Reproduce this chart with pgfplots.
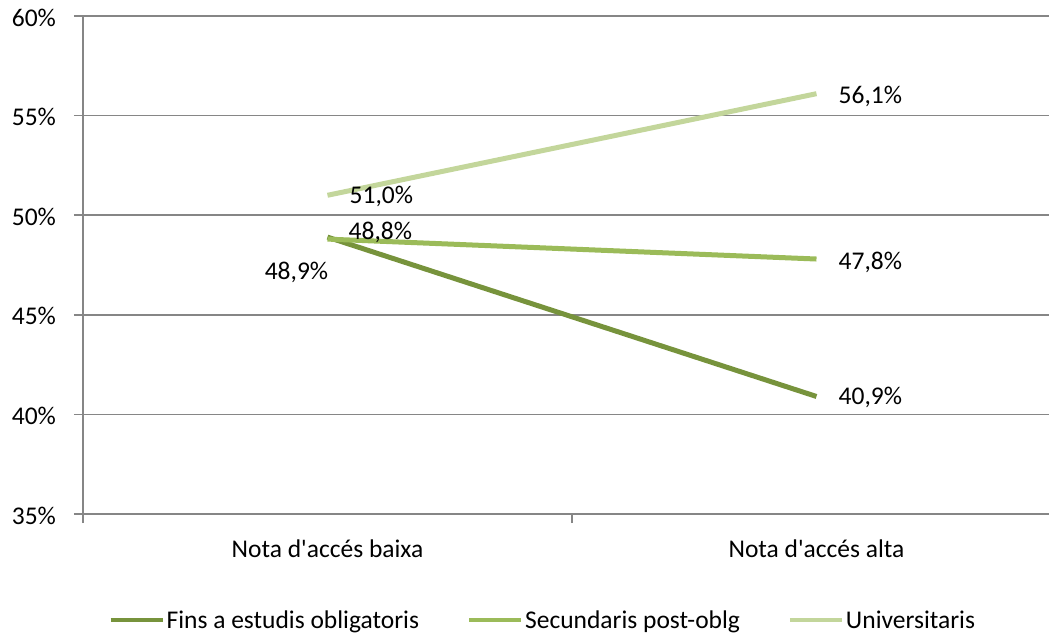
\documentclass[border=0pt]{standalone}
\usepackage{fontspec}
\setmainfont{Carlito}
\usepackage{pgfplots}
\pgfplotsset{compat=1.18}
\definecolor{cA}{RGB}{119,147,60}
\definecolor{cB}{RGB}{155,187,89}
\definecolor{cC}{RGB}{195,214,155}
\definecolor{gridc}{RGB}{134,134,134}
\newcommand{\fs}{\fontsize{25.5}{30}\selectfont}
\begin{document}
\begin{tikzpicture}[x=1pt,y=1pt]
\useasboundingbox (0,0) rectangle (1049,637);
\clip (0,0) rectangle (1049,637);
\begin{axis}[
  at={(83pt,123pt)}, anchor=south west,
  scale only axis, width=966pt, height=498pt,
  xmin=-0.5, xmax=1.4755, ymin=35, ymax=60,
  axis x line*=bottom, axis y line*=left,
  axis line style={gridc, line width=1.5pt},
  every tick/.style={gridc, line width=1.5pt},
  tick align=outside, major tick length=9pt,
  xtick={-0.5,0.5,1.5}, xticklabels={},
  extra x ticks={0,1},
  extra x tick labels={Nota d\textquotesingle accés baixa, Nota d\textquotesingle accés alta},
  extra x tick style={major tick length=0pt, grid=none, xticklabel style={yshift=-22pt}},
  ytick={35,40,45,50,55,60},
  yticklabel={\pgfmathprintnumber{\tick}\%},
  /pgf/number format/assume math mode=true,
  ymajorgrids, grid style={gridc, line width=1.5pt},
  tick label style={font=\fs, black},
  yticklabel style={xshift=-14.5pt, yshift=-1.5pt},
  legend columns=3,
  legend style={draw=none, fill=none, at={(0.476,-0.213)}, anchor=center,
    font=\fs,
    /tikz/every even column/.append style={column sep=46pt}},
  legend image code/.code={\draw[#1, line width=4pt] (0pt,0pt) -- (52pt,0pt);},
  clip=false,
]
\addplot[cA, line width=5pt] coordinates {(0,48.9) (1,40.9)};
\addlegendentry{Fins a estudis obligatoris}
\addplot[cB, line width=5pt] coordinates {(0,48.8) (1,47.8)};
\addlegendentry{Secundaris post-oblg}
\addplot[cC, line width=5pt] coordinates {(0,51.0) (1,56.1)};
\addlegendentry{Universitaris}
\begin{scope}[every node/.style={font=\fs, inner sep=0pt}]
\node[anchor=center, xshift=-31pt, yshift=-35pt] at (axis cs:0,48.9) {48,9\%};
\node[anchor=west, xshift=22pt, yshift=-1pt] at (axis cs:1,40.9) {40,9\%};
\node[anchor=west, xshift=21pt, yshift=7pt] at (axis cs:0,48.8) {48,8\%};
\node[anchor=west, xshift=22pt, yshift=-3pt] at (axis cs:1,47.8) {47,8\%};
\node[anchor=west, xshift=22pt, yshift=-1pt] at (axis cs:0,51.0) {51,0\%};
\node[anchor=west, xshift=22pt, yshift=-3pt] at (axis cs:1,56.1) {56,1\%};
\end{scope}
\end{axis}
\end{tikzpicture}
\end{document}
